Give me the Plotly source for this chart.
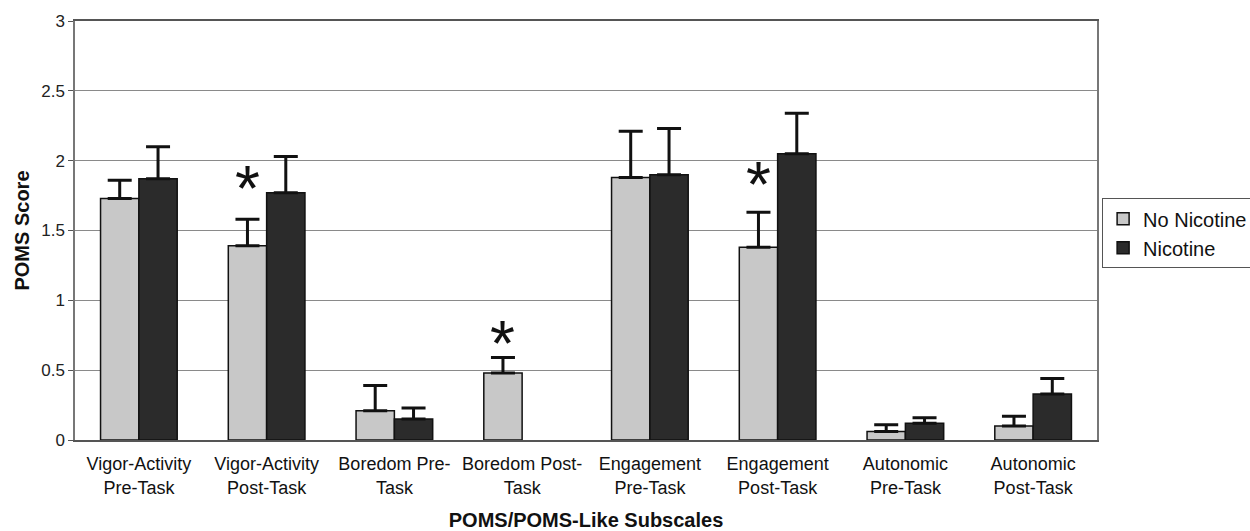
import plotly.graph_objects as go

categories = ["Vigor-Activity<br>Pre-Task", "Vigor-Activity<br>Post-Task", "Boredom Pre-<br>Task",
              "Boredom Post-<br>Task", "Engagement<br>Pre-Task", "Engagement<br>Post-Task",
              "Autonomic<br>Pre-Task", "Autonomic<br>Post-Task"]
no_nicotine = [1.73, 1.39, 0.21, 0.48, 1.88, 1.38, 0.06, 0.10]
no_nicotine_err = [0.13, 0.19, 0.18, 0.11, 0.33, 0.25, 0.05, 0.07]
nicotine = [1.87, 1.77, 0.15, None, 1.90, 2.05, 0.12, 0.33]
nicotine_err = [0.23, 0.26, 0.08, None, 0.33, 0.29, 0.04, 0.11]
# significance markers over No Nicotine bars (height in score units)
star_height = [None, 1.88, None, 0.77, None, 1.91, None, None]

FONT = "Arial, 'Liberation Sans', sans-serif"

fig = go.Figure()
fig.add_trace(go.Bar(
    name="No Nicotine", x=categories, y=no_nicotine,
    marker=dict(color="#c8c8c8", line=dict(color="#111111", width=1.5)),
    error_y=dict(type="data", symmetric=False, array=no_nicotine_err,
                 arrayminus=[0] * len(no_nicotine_err), color="#111111", thickness=3, width=12),
))
fig.add_trace(go.Bar(
    name="Nicotine", x=categories, y=nicotine,
    marker=dict(color="#2b2b2b", line=dict(color="#111111", width=1.5)),
    error_y=dict(type="data", symmetric=False, array=nicotine_err,
                 arrayminus=[0] * len(nicotine_err), color="#111111", thickness=3, width=12),
))

for i, h in enumerate(star_height):
    if h is None:
        continue
    fig.add_annotation(x=i - 0.15, y=h, xref="x", yref="y", text="*", showarrow=False,
                       font=dict(family=FONT, size=64, color="#111111"),
                       yanchor="middle", yshift=-12)

fig.update_layout(
    width=1250, height=531,
    margin=dict(l=75, r=153, t=21, b=91, autoexpand=False),
    paper_bgcolor="white", plot_bgcolor="white",
    barmode="group", bargap=0.4, bargroupgap=0,
    font=dict(family=FONT, color="#222222"),
    showlegend=True,
    legend=dict(x=1.005, y=0.577, xanchor="left", yanchor="top",
                bordercolor="#555555", borderwidth=1, bgcolor="white",
                font=dict(family=FONT, size=20, color="#111111"),
                tracegroupgap=0, itemwidth=30),
)
fig.update_yaxes(
    range=[0, 3], tickvals=[0, 0.5, 1, 1.5, 2, 2.5, 3],
    ticktext=["0", "0.5", "1", "1.5", "2", "2.5", "3"],
    showgrid=True, gridcolor="#8a8a8a", gridwidth=1,
    showline=True, linecolor="#777777", linewidth=1.5, mirror=True,
    ticks="outside", ticklen=5, tickcolor="#555555",
    tickfont=dict(family=FONT, size=17, color="#222222"),
    title=dict(text="<b>POMS Score</b>", font=dict(family=FONT, size=20, color="#111111"), standoff=6),
    zeroline=False,
)
fig.update_xaxes(
    showline=True, linecolor="#555555", linewidth=1.5, mirror=True,
    tickfont=dict(family=FONT, size=18, color="#111111"),
    ticklabelstandoff=7,
    title=dict(text="<b>POMS/POMS-Like Subscales</b>", font=dict(family=FONT, size=20, color="#111111"), standoff=22),
)

fig.write_html("out.html")
